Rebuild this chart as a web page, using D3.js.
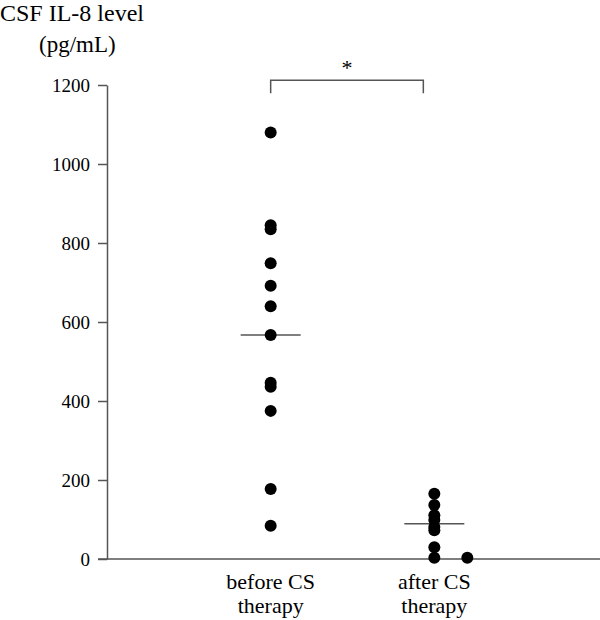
<!DOCTYPE html>
<html>
<head>
<meta charset="utf-8">
<script src="https://cdn.jsdelivr.net/npm/d3@7"></script>
<style>
  html, body { margin: 0; padding: 0; background: #fff; }
  svg { display: block; font-family: "Liberation Serif", "Times New Roman", serif; }
</style>
</head>
<body>
<svg id="chart" width="600" height="620"></svg>
<script>
// ---- data ----
const categories = ["before CS therapy", "after CS therapy"];
const categoryLines = [["before CS", "therapy"], ["after CS", "therapy"]];
const beforeValues = [1080, 845, 835, 749, 692, 640, 567, 446, 436, 375, 177, 84];
const afterValues = [165, 137, 111, 99, 81, 73, 30, 3, 3];
const afterDodge = [0, 0, 0, 0, 0, 0, 0, 0, 1];
const medians = [567, 89];
const yTicks = [0, 200, 400, 600, 800, 1000, 1200];
const yTitle = ["CSF IL-8 level", "(pg/mL)"];
const significance = "*";

// ---- layout ----
const svg = d3.select("#chart");
const axisColor = "#555";
const x = d3.scalePoint().domain(categories).range([107, 598]).padding(1);
const y = d3.scaleLinear().domain([0, 1200]).range([559, 85]);
const r = 6;

// y axis
const yAxis = svg.append("g")
  .attr("transform", "translate(107,0)")
  .call(d3.axisLeft(y).tickValues(yTicks).tickFormat(d3.format("d")).tickSize(9).tickSizeOuter(0).tickPadding(8));
yAxis.select(".domain").attr("stroke", axisColor).attr("stroke-width", 1.5);
yAxis.selectAll(".tick line").attr("stroke", axisColor).attr("stroke-width", 1.5);
yAxis.selectAll(".tick text")
  .attr("fill", "#000")
  .style("font-family", "'Liberation Serif', serif")
  .style("font-size", "19px");

// x axis baseline
svg.append("line")
  .attr("x1", 98).attr("x2", 600)
  .attr("y1", y(0)).attr("y2", y(0))
  .attr("stroke", axisColor).attr("stroke-width", 1.5);

// category labels
categories.forEach((c, i) => {
  const t = svg.append("text")
    .attr("x", x(c))
    .attr("text-anchor", "middle")
    .style("font-size", "22px")
    .attr("fill", "#000");
  categoryLines[i].forEach((ln, j) => {
    t.append("tspan").attr("x", x(c)).attr("y", 589 + j * 24).text(ln);
  });
});

// y title
svg.append("text").attr("x", 0).attr("y", 21)
  .style("font-size", "24px").attr("fill", "#000").text(yTitle[0]);
svg.append("text").attr("x", 39).attr("y", 52)
  .style("font-size", "23px").attr("fill", "#000").text(yTitle[1]);

// median lines
medians.forEach((m, i) => {
  svg.append("line")
    .attr("x1", x(categories[i]) - 30).attr("x2", x(categories[i]) + 30)
    .attr("y1", y(m)).attr("y2", y(m))
    .attr("stroke", "#555").attr("stroke-width", 1.5);
});

// points
svg.append("g").selectAll("circle")
  .data(beforeValues)
  .join("circle")
  .attr("cx", x(categories[0]))
  .attr("cy", d => y(d))
  .attr("r", r)
  .attr("fill", "#000");

svg.append("g").selectAll("circle")
  .data(afterValues)
  .join("circle")
  .attr("cx", (d, i) => x(categories[1]) + afterDodge[i] * 33)
  .attr("cy", d => y(d))
  .attr("r", r)
  .attr("fill", "#000");

// significance bracket
const bx1 = x(categories[0]);
const bx2 = x(categories[1]) - 11;
const by = y(1212);
svg.append("path")
  .attr("d", `M${bx1},${by + 13}V${by}H${bx2}V${by + 13}`)
  .attr("fill", "none").attr("stroke", "#555").attr("stroke-width", 1.5);
svg.append("text")
  .attr("x", (bx1 + bx2) / 2).attr("y", 75)
  .attr("text-anchor", "middle")
  .style("font-size", "22px").attr("fill", "#000")
  .text(significance);
</script>
</body>
</html>
